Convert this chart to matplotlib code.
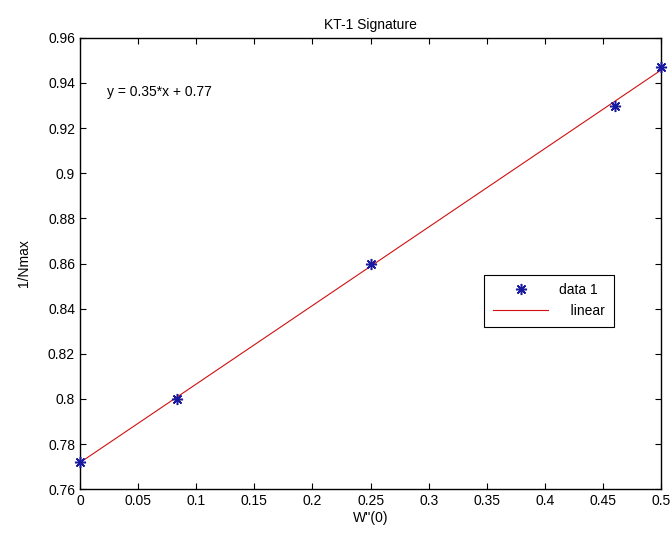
import matplotlib.pyplot as plt
import numpy as np

plt.rcParams['font.family'] = ['Liberation Sans', 'DejaVu Sans']

w0 = np.array([0.0, 0.0833, 0.25, 0.46, 0.5])
inv_nmax = np.array([0.772, 0.800, 0.860, 0.930, 0.947])
xticks = [0, 0.05, 0.1, 0.15, 0.2, 0.25, 0.3, 0.35, 0.4, 0.45, 0.5]
yticks = [0.76, 0.78, 0.8, 0.82, 0.84, 0.86, 0.88, 0.9, 0.92, 0.94, 0.96]

fig = plt.figure(figsize=(6.72, 5.4), dpi=100)
ax = fig.add_axes([0.119, 0.094, 0.865, 0.836])

p = np.polyfit(w0, inv_nmax, 1)
xs = np.array([0, 0.5])
ax.plot(xs, np.polyval(p, xs), color='#d01010', linewidth=0.8, label='   linear', zorder=2)
ax.plot(w0, inv_nmax, linestyle='none', marker=(8, 2, 0), color='#1a1aa0',
        markersize=8, markeredgewidth=1.1, label='data 1', zorder=3, clip_on=False)

ax.set_xlim(0, 0.5)
ax.set_ylim(0.76, 0.96)
ax.set_xticks(xticks)
ax.set_xticklabels([('%g' % t) for t in xticks])
ax.set_yticks(yticks)
ax.set_yticklabels([('%g' % t) for t in yticks])
ax.tick_params(direction='in', top=True, right=True, labelsize=10, length=4)
for s in ax.spines.values():
    s.set_linewidth(1.0)

ax.set_title('KT-1 Signature', fontsize=10, pad=6)
ax.set_xlabel("W''(0)", fontsize=10, labelpad=2)
ax.set_ylabel('1/Nmax', fontsize=10, labelpad=12)
ax.text(0.047, 0.87, 'y = 0.35*x + 0.77', transform=ax.transAxes, fontsize=10)

handles, labels = ax.get_legend_handles_labels()
leg = ax.legend(handles[::-1], labels[::-1], loc='upper right',
                bbox_to_anchor=(0.93, 0.49), fontsize=10,
                fancybox=False, edgecolor='black', framealpha=1,
                handlelength=4.0, borderpad=0.6, labelspacing=0.5)
leg.get_frame().set_linewidth(0.8)

plt.savefig('out.png')
